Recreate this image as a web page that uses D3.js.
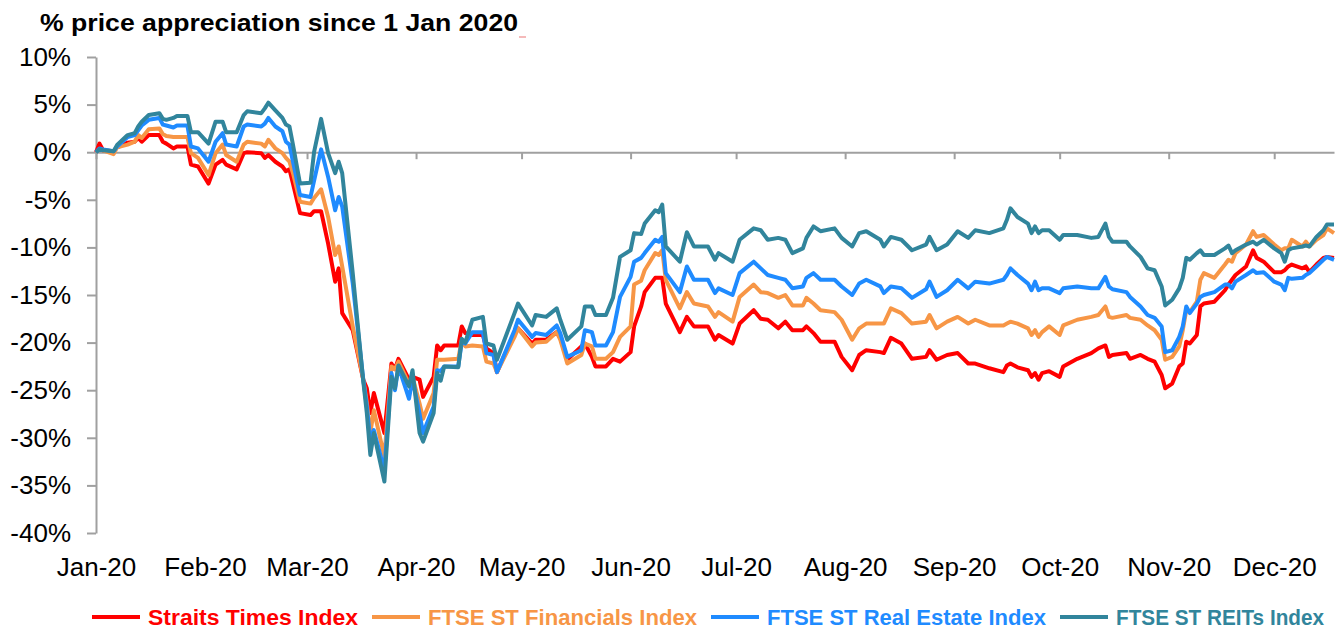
<!DOCTYPE html>
<html>
<head>
<meta charset="utf-8">
<script src="https://cdn.jsdelivr.net/npm/d3@7"></script>
<style>
  body { margin: 0; background: #fff; }
  svg { display: block; font-family: "Liberation Sans", Arial, sans-serif; }
</style>
</head>
<body>
<svg width="1342" height="630"></svg>
<script>
const width = 1342;
const height = 630;

// trading dates
const dates = [
  "2020-01-01","2020-01-02","2020-01-03","2020-01-06","2020-01-07","2020-01-10","2020-01-12","2020-01-13","2020-01-14","2020-01-16","2020-01-19","2020-01-20","2020-01-21","2020-01-23","2020-01-24","2020-01-27","2020-01-28","2020-01-30",
  "2020-02-02","2020-02-04","2020-02-06","2020-02-07","2020-02-10","2020-02-12","2020-02-13","2020-02-17","2020-02-18","2020-02-19","2020-02-21","2020-02-23","2020-02-24","2020-02-25","2020-02-26","2020-02-28",
  "2020-03-02","2020-03-03","2020-03-05","2020-03-07","2020-03-09","2020-03-10","2020-03-11","2020-03-14","2020-03-17","2020-03-18","2020-03-19","2020-03-20","2020-03-23","2020-03-25","2020-03-26","2020-03-27","2020-03-30","2020-03-31",
  "2020-04-02","2020-04-03","2020-04-06","2020-04-07","2020-04-08","2020-04-09","2020-04-13","2020-04-14","2020-04-15","2020-04-17","2020-04-20","2020-04-21","2020-04-23","2020-04-24","2020-04-29","2020-04-30",
  "2020-05-04","2020-05-05","2020-05-08","2020-05-11","2020-05-12","2020-05-14","2020-05-18","2020-05-19","2020-05-21","2020-05-22","2020-05-25","2020-05-27","2020-05-29",
  "2020-06-01","2020-06-02","2020-06-04","2020-06-05","2020-06-08","2020-06-09","2020-06-10","2020-06-11","2020-06-15","2020-06-17","2020-06-19","2020-06-23","2020-06-25","2020-06-26","2020-06-30",
  "2020-07-02","2020-07-06","2020-07-08","2020-07-10","2020-07-13","2020-07-15","2020-07-17","2020-07-20","2020-07-21","2020-07-23","2020-07-25","2020-07-29","2020-07-31",
  "2020-08-03","2020-08-05","2020-08-07","2020-08-11","2020-08-12","2020-08-14","2020-08-17","2020-08-20","2020-08-24","2020-08-25","2020-08-27","2020-08-30",
  "2020-09-02","2020-09-05","2020-09-07","2020-09-11","2020-09-15","2020-09-16","2020-09-17","2020-09-19","2020-09-22","2020-09-23","2020-09-24","2020-09-25","2020-09-26","2020-09-28",
  "2020-10-01","2020-10-02","2020-10-06","2020-10-10","2020-10-12","2020-10-14","2020-10-15","2020-10-16","2020-10-20","2020-10-21","2020-10-24","2020-10-26","2020-10-28","2020-10-30","2020-10-31",
  "2020-11-02","2020-11-04","2020-11-05","2020-11-06","2020-11-07","2020-11-09","2020-11-10","2020-11-11","2020-11-14","2020-11-17","2020-11-18","2020-11-19","2020-11-20","2020-11-23","2020-11-25","2020-11-26","2020-11-28",
  "2020-12-01","2020-12-03","2020-12-04","2020-12-05","2020-12-06","2020-12-09","2020-12-10","2020-12-11","2020-12-13","2020-12-15","2020-12-16","2020-12-18"
];

// % change since 1 Jan 2020
const sti = [
  0, 0.9, 0.2, 0.1, 0.5, 1.0, 1.1, 1.5, 1.1, 1.8, 1.8, 1.1, 0.9, 0.4, 0.6, 0.6, -1.3, -1.5,
  -3.3, -1.3, -0.8, -1.3, -1.8, -0.1, 0.0, -0.1, -0.6, -0.3, -1.0, -1.5, -2.0, -1.8, -3.3, -6.4,
  -6.6, -6.2, -6.2, -9.6, -13.6, -12.2, -16.9, -18.7, -23.9, -24.8, -27.4, -25.3, -29.5, -22.2, -22.8, -21.7, -23.9, -23.6,
  -23.9, -25.7, -23.6, -20.3, -20.8, -20.3, -20.3, -18.3, -19.0, -19.2, -19.2, -20.6, -21.1, -23.1, -19.0, -18.5,
  -20.1, -19.7, -19.7, -18.9, -19.5, -21.8, -20.4, -20.1, -21.5, -22.5, -22.5, -21.7, -22.0,
  -21.0, -18.3, -16.2, -14.7, -13.2, -13.2, -13.2, -15.9, -18.9, -17.3, -18.3, -18.3, -19.7, -19.2, -20.1,
  -18.0, -16.6, -17.5, -17.6, -18.5, -17.8, -18.7, -18.7, -18.3, -19.0, -19.9, -19.9, -21.5,
  -22.9, -21.3, -20.8, -21.0, -21.1, -19.5, -20.1, -21.7, -21.5, -20.8, -21.8, -21.3,
  -21.1, -22.2, -22.2, -22.7, -23.1, -22.4, -22.2, -22.6, -22.9, -23.6, -23.2, -23.9, -23.2, -23.0,
  -23.6, -22.5, -21.7, -21.1, -20.6, -20.3, -21.5, -21.3, -21.1, -21.7, -21.3, -21.7, -22.0, -23.4, -24.8,
  -24.3, -22.5, -22.2, -19.9, -20.1, -19.2, -16.2, -15.9, -15.7, -14.5, -13.9, -13.4, -12.9, -12.0, -10.3, -11.1, -11.5,
  -12.6, -12.6, -12.4, -12.0, -11.8, -12.2, -12.0, -12.6, -11.8, -11.1, -11.0, -11.1
];

const financials = [
  0, 0.3, 0.2, -0.2, 0.5, 0.8, 1.1, 1.8, 1.5, 2.4, 2.5, 1.9, 1.7, 1.6, 1.6, 1.6, -0.1, -0.6,
  -2.4, -0.1, 0.8, -0.3, -1.0, 0.8, 1.1, 0.9, 0.6, 1.3, 0.4, -0.1, -0.6, -1.0, -2.2, -5.2,
  -5.4, -4.8, -3.9, -6.8, -10.8, -9.9, -12.0, -18.3, -23.9, -26.3, -29.5, -27.1, -32.0, -22.5, -22.8, -22.0, -24.3, -23.6,
  -26.4, -28.0, -25.3, -21.8, -21.8, -21.8, -21.7, -19.7, -20.4, -20.3, -20.4, -22.0, -22.2, -23.1, -19.4, -18.5,
  -20.4, -20.0, -19.9, -18.9, -19.7, -22.2, -21.3, -20.1, -20.4, -21.7, -21.7, -21.0, -19.4,
  -18.3, -13.9, -13.5, -12.4, -10.6, -10.8, -10.3, -13.4, -16.4, -14.7, -15.9, -16.2, -17.3, -16.8, -17.8,
  -15.2, -13.9, -14.7, -14.8, -15.3, -15.0, -16.1, -16.1, -15.3, -15.9, -16.6, -16.8, -17.6,
  -19.7, -18.5, -18.0, -18.0, -18.0, -16.4, -16.9, -18.0, -17.8, -17.1, -18.5, -17.8,
  -17.3, -18.0, -17.6, -18.2, -18.2, -18.0, -17.8, -18.0, -18.5, -19.2, -18.7, -19.4, -18.9, -18.3,
  -19.2, -18.2, -17.6, -17.3, -17.1, -16.2, -17.3, -17.4, -17.1, -17.4, -17.6, -18.2, -18.7, -19.7, -21.8,
  -21.5, -20.4, -18.7, -16.6, -16.8, -15.7, -13.4, -12.7, -13.2, -11.8, -11.3, -11.5, -10.6, -9.7, -8.3, -8.9, -8.7,
  -9.7, -10.3, -10.1, -10.1, -9.2, -9.9, -9.4, -9.9, -9.2, -8.7, -8.0, -8.5
];

const realEstate = [
  0, 0.4, 0.3, 0.1, 0.6, 1.6, 1.8, 2.3, 2.8, 3.4, 3.6, 2.9, 2.8, 2.6, 2.8, 2.8, 0.6, 0.4,
  -1.0, 1.1, 2.0, 0.8, 0.6, 2.7, 2.9, 2.7, 3.0, 3.6, 2.7, 2.2, 1.1, 0.8, -1.0, -4.5,
  -4.7, -3.0, 0.3, -2.6, -6.1, -4.7, -5.7, -13.8, -23.9, -26.7, -30.2, -29.2, -33.4, -23.2, -25.0, -22.5, -25.9, -23.8,
  -27.5, -29.5, -26.7, -22.9, -23.0, -22.5, -22.5, -19.9, -20.1, -18.9, -18.9, -21.1, -21.3, -23.1, -18.7, -17.6,
  -19.4, -19.0, -19.2, -18.2, -19.0, -21.5, -20.8, -18.7, -18.9, -20.3, -20.3, -18.9, -15.2,
  -13.1, -11.5, -11.1, -10.6, -9.2, -9.4, -8.9, -12.7, -14.7, -12.0, -13.4, -13.4, -14.8, -14.3, -15.0,
  -12.7, -11.5, -12.2, -12.9, -13.2, -13.4, -14.3, -14.1, -13.2, -12.7, -13.4, -13.4, -14.1,
  -15.0, -13.8, -13.4, -14.1, -14.8, -14.1, -14.3, -15.3, -14.4, -13.6, -15.2, -14.5,
  -13.4, -14.3, -13.6, -13.8, -13.4, -12.9, -12.2, -12.9, -13.8, -14.5, -13.6, -14.5, -14.3, -14.3,
  -14.8, -14.3, -14.1, -14.3, -14.3, -13.1, -14.1, -14.4, -14.7, -15.2, -16.2, -17.1, -17.4, -18.3, -21.0,
  -20.8, -19.4, -18.3, -16.2, -16.9, -15.9, -15.2, -15.0, -14.7, -13.9, -13.9, -14.3, -13.6, -12.9, -12.4, -12.7, -12.6,
  -13.6, -13.9, -14.5, -13.2, -13.3, -13.2, -12.9, -12.7, -12.0, -11.3, -11.0, -11.3
];

const reits = [
  0, 0.3, 0.2, 0.1, 0.75, 1.8, 2.0, 2.7, 3.2, 3.9, 4.1, 3.5, 3.4, 3.6, 3.8, 3.8, 2.1, 2.1,
  0.9, 3.2, 3.2, 2.1, 2.1, 3.9, 4.3, 4.1, 4.6, 5.2, 4.4, 3.6, 2.9, 2.7, 0.8, -3.3,
  -3.2, 0.0, 3.5, -0.1, -2.2, -1.0, -2.2, -12.7, -24.1, -27.4, -31.8, -29.5, -34.6, -23.6, -24.8, -22.4, -24.6, -22.9,
  -29.5, -30.4, -27.4, -23.2, -24.0, -22.5, -22.6, -19.6, -20.0, -17.6, -17.3, -20.1, -20.3, -21.8, -16.9, -15.9,
  -18.2, -17.1, -17.3, -16.4, -17.6, -19.7, -18.3, -16.2, -16.2, -17.1, -17.1, -15.3, -11.0,
  -10.3, -8.5, -8.6, -7.5, -6.1, -6.3, -5.5, -9.9, -11.5, -8.4, -9.9, -9.9, -11.3, -10.6, -11.5,
  -9.2, -8.0, -8.2, -9.2, -9.0, -9.2, -10.6, -10.1, -9.0, -7.8, -8.3, -8.0, -9.0,
  -9.9, -8.5, -8.3, -9.2, -9.9, -8.9, -9.2, -10.3, -9.7, -8.9, -10.3, -9.7,
  -8.3, -9.0, -8.2, -8.5, -8.0, -7.1, -5.9, -6.8, -7.5, -8.5, -7.8, -8.5, -8.2, -8.2,
  -9.2, -8.7, -8.7, -9.0, -8.9, -7.5, -8.9, -9.4, -9.4, -9.9, -11.0, -12.2, -12.4, -14.1, -16.1,
  -15.5, -14.3, -13.2, -11.1, -11.3, -10.6, -10.3, -10.8, -10.8, -10.1, -9.8, -10.6, -10.3, -9.7, -9.4, -9.7, -9.2,
  -10.1, -10.6, -11.5, -10.3, -10.1, -9.9, -9.8, -9.9, -8.9, -8.2, -7.6, -7.6
];

const seriesNames = ["Straits Times Index", "FTSE ST Financials Index", "FTSE ST Real Estate Index", "FTSE ST REITs Index"];
const seriesValues = [sti, financials, realEstate, reits];
const seriesColors = ["#ff0000", "#f79646", "#1f8bff", "#31859c"];

const yTicks = [10, 5, 0, -5, -10, -15, -20, -25, -30, -35, -40];

// legend text widths (condensed bold face in the original)
const legendTextWidths = [210, 269, 279, 208];

const parseDate = d3.timeParse("%Y-%m-%d");
const days = dates.map(parseDate);

const series = seriesNames.map((name, i) => ({
  name: name,
  color: seriesColors[i],
  values: seriesValues[i].map((v, j) => ({ date: days[j], value: v }))
}));

const margin = { left: 96, right: 8, top: 57, bottom: 97 };

const xScale = d3.scaleTime()
  .domain(d3.extent(days))
  .range([margin.left, width - margin.right]);

const yScale = d3.scaleLinear()
  .domain([-40, 10])
  .range([height - margin.bottom, margin.top]);

const svg = d3.select('svg');

const axisColor = '#a0a0a0';

// title
svg.append('text')
  .text('% price appreciation since 1 Jan 2020')
  .attr('x', 40)
  .attr('y', 31)
  .style('font-size', '24px')
  .style('font-weight', 'bold')
  .attr('fill', '#000')
  .attr('textLength', 478)
  .attr('lengthAdjust', 'spacingAndGlyphs');

// little red mark left after the title
svg.append('line')
  .attr('x1', 519).attr('x2', 526)
  .attr('y1', 37).attr('y2', 37)
  .attr('stroke', '#f2a3a3')
  .attr('stroke-width', 1.5);

// Y - Axis
const yAxis = svg.append('g')
  .attr('transform', 'translate(' + margin.left + ',0)')
  .call(d3.axisLeft(yScale)
    .tickValues(yTicks)
    .tickFormat(d => d + '%')
    .tickSize(9)
    .tickSizeOuter(0)
    .tickPadding(16));

yAxis.select('.domain').attr('stroke', axisColor).attr('stroke-width', 2);
yAxis.selectAll('.tick line').attr('stroke', axisColor).attr('stroke-width', 2);
yAxis.selectAll('.tick text')
  .attr('fill', '#000')
  .style('font-size', '26px')
  .style('font-family', '"Liberation Sans", Arial, sans-serif');

// X - Axis along 0%
const xAxis = svg.append('g')
  .attr('transform', 'translate(0,' + yScale(0) + ')')
  .call(d3.axisBottom(xScale)
    .ticks(d3.timeMonth.every(1))
    .tickSize(7)
    .tickSizeOuter(0)
    .tickFormat(''));

xAxis.select('.domain').attr('stroke', axisColor).attr('stroke-width', 2);
xAxis.selectAll('.tick line').attr('stroke', axisColor).attr('stroke-width', 2);

// month labels under the plot
const xLabels = svg.append('g')
  .attr('transform', 'translate(0,' + yScale(-40) + ')')
  .call(d3.axisBottom(xScale)
    .ticks(d3.timeMonth.every(1))
    .tickSize(0)
    .tickPadding(25)
    .tickFormat(d3.timeFormat('%b-%y')));

xLabels.select('.domain').remove();
xLabels.selectAll('.tick text')
  .attr('fill', '#000')
  .style('font-size', '26px')
  .style('font-family', '"Liberation Sans", Arial, sans-serif');

// lines
const line = d3.line()
  .x(d => xScale(d.date))
  .y(d => yScale(d.value));

svg.append('g')
  .selectAll('path')
  .data(series)
  .enter()
  .append('path')
    .attr('d', d => line(d.values))
    .attr('fill', 'none')
    .attr('stroke', d => d.color)
    .attr('stroke-width', 4)
    .attr('stroke-linejoin', 'round');

// legend
const legend = svg.append('g');
let lx = 92;
const ly = 617;

series.forEach((s, i) => {
  legend.append('line')
    .attr('x1', lx)
    .attr('x2', lx + 48)
    .attr('y1', ly)
    .attr('y2', ly)
    .attr('stroke', s.color)
    .attr('stroke-width', 4);

  const w = legendTextWidths[i];
  legend.append('text')
    .text(s.name)
    .attr('x', lx + 56)
    .attr('y', ly + 8)
    .attr('fill', s.color)
    .style('font-size', '22px')
    .style('font-weight', 'bold')
    .attr('textLength', w)
    .attr('lengthAdjust', 'spacingAndGlyphs');

  lx = lx + 56 + w + 14;
});
</script>
</body>
</html>
